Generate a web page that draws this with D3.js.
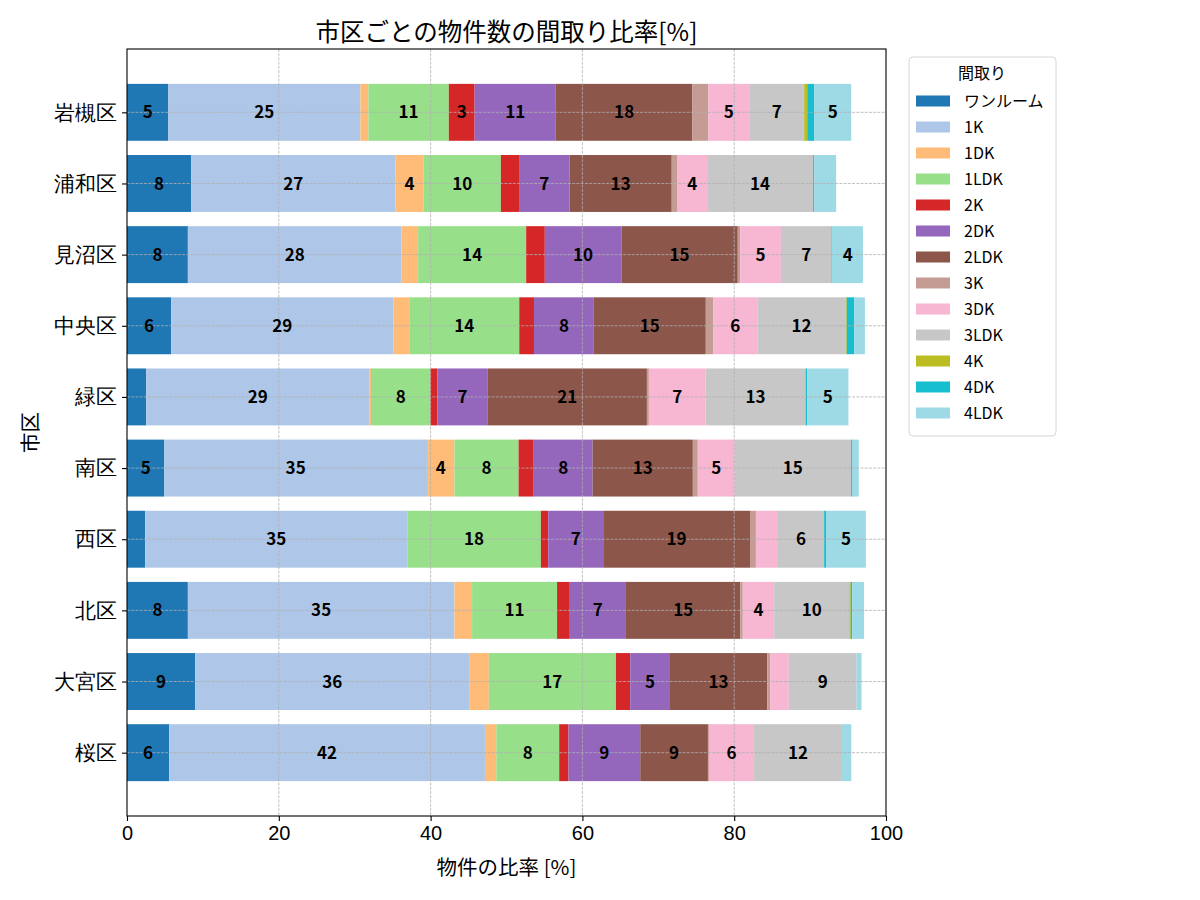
<!DOCTYPE html>
<html>
<head>
<meta charset="utf-8">
<script src="https://d3js.org/d3.v7.min.js"></script>
<style>
  body { margin: 0; background: #fff; }
  svg { font-family: "Noto Sans CJK JP", "Noto Sans", sans-serif; }
  .axis path, .axis line { stroke: #000; stroke-width: 1.1; }
  .axis text { font-size: 20px; fill: #000; }
  .axis--y text { font-size: 21px; }
</style>
</head>
<body>
<svg width="1200" height="900"></svg>
<script>
// wards, bottom (index 0) to top, as matplotlib barh stacks them
var wards = ["桜区", "大宮区", "北区", "西区", "南区", "緑区", "中央区", "見沼区", "浦和区", "岩槻区"];

var layouts = ["ワンルーム", "1K", "1DK", "1LDK", "2K", "2DK", "2LDK", "3K", "3DK", "3LDK", "4K", "4DK", "4LDK"];

var colors = ["#1f77b4", "#aec7e8", "#ffbb78", "#98df8a", "#d62728", "#9467bd", "#8c564b",
              "#c49c94", "#f7b6d2", "#c7c7c7", "#bcbd22", "#17becf", "#9edae5"];

// share of listings per layout [%], same order as layouts
var sakura    = [5.56, 41.6, 1.5, 8.28, 1.23, 9.45, 8.92, 0.13, 5.95, 11.58, 0, 0, 1.23];
var omiya     = [8.99, 36.09, 2.59, 16.75, 1.88, 5.24, 12.81, 0.39, 2.45, 8.93, 0, 0, 0.65];
var kita      = [8.02, 35.12, 2.33, 11.19, 1.68, 7.4, 15.07, 0.32, 4.14, 9.9, 0.19, 0.2, 1.55];
var nishi     = [2.39, 34.54, 0, 17.6, 0.97, 7.24, 19.34, 0.78, 2.91, 6.08, 0, 0.25, 5.25];
var minami    = [4.92, 34.6, 3.62, 8.45, 2.0, 7.76, 13.2, 0.65, 4.85, 15.33, 0, 0.13, 0.9];
var midori    = [2.52, 29.43, 0.2, 7.82, 0.91, 6.66, 20.96, 0.26, 7.45, 13.2, 0, 0.19, 5.45];
var chuo      = [5.82, 29.3, 2.07, 14.49, 1.94, 7.89, 14.75, 0.97, 5.82, 11.65, 0.13, 0.97, 1.42];
var minuma    = [8.02, 28.14, 2.2, 14.23, 2.46, 10.09, 15.33, 0.32, 5.37, 6.66, 0, 0.13, 4.01];
var urawa     = [8.45, 26.9, 3.75, 10.16, 2.39, 6.66, 13.46, 0.77, 3.89, 13.97, 0, 0.13, 2.9];
var iwatsuki  = [5.45, 25.3, 1.05, 10.6, 3.4, 10.7, 18.0, 2.07, 5.4, 7.25, 0.4, 0.9, 4.9];

var shares = [sakura, omiya, kita, nishi, minami, midori, chuo, minuma, urawa, iwatsuki];

var xTicks = [0, 20, 40, 60, 80, 100];

var svg = d3.select("svg"),
    margin = {top: 49, right: 314, bottom: 84, left: 127},
    width = +svg.attr("width") - margin.left - margin.right,
    height = +svg.attr("height") - margin.top - margin.bottom;

// matplotlib style y limits: bars are 0.8 tall, 5% padding
var barH = 0.8;
var lo = -barH / 2, hi = wards.length - 1 + barH / 2;
var pad = (hi - lo) * 0.05;

var x = d3.scaleLinear().domain([0, 100]).range([0, width]);
var y = d3.scaleLinear().domain([lo - pad, hi + pad]).range([height, 0]);

var g = svg.append("g")
    .attr("transform", "translate(" + margin.left + "," + margin.top + ")");

// build stacked segments
var segs = [];
shares.forEach(function(row, wi) {
  var acc = 0;
  row.forEach(function(v, li) {
    segs.push({ward: wi, layout: li, x0: acc, x1: acc + v, value: v});
    acc += v;
  });
});

g.selectAll(".bar").data(segs)
  .enter().append("rect")
    .attr("class", "bar")
    .attr("x", function(d) { return x(d.x0); })
    .attr("width", function(d) { return x(d.x1) - x(d.x0); })
    .attr("y", function(d) { return y(d.ward + barH / 2); })
    .attr("height", function(d) { return y(d.ward - barH / 2) - y(d.ward + barH / 2); })
    .attr("fill", function(d) { return colors[d.layout]; });

// grid over the bars
var grid = g.append("g").attr("class", "grid")
    .attr("stroke", "#b0b0b0").attr("stroke-width", 0.8)
    .attr("stroke-dasharray", "2.96,1.28");
grid.selectAll(".vg").data(xTicks.slice(1, -1))
  .enter().append("line")
    .attr("x1", function(d) { return x(d); }).attr("x2", function(d) { return x(d); })
    .attr("y1", 0).attr("y2", height);
grid.selectAll(".hg").data(wards)
  .enter().append("line")
    .attr("x1", 0).attr("x2", width)
    .attr("y1", function(d, i) { return y(i); }).attr("y2", function(d, i) { return y(i); });

// value labels for segments of 3% or more
g.selectAll(".label").data(segs.filter(function(d) { return d.value >= 3; }))
  .enter().append("text")
    .attr("class", "label")
    .attr("x", function(d) { return x((d.x0 + d.x1) / 2); })
    .attr("y", function(d) { return y(d.ward); })
    .attr("dy", "0.36em")
    .attr("text-anchor", "middle")
    .style("font-size", "17px")
    .style("font-weight", "bold")
    .text(function(d) { return Math.round(d.value); });

// axes
var xAxis = d3.axisBottom(x).tickValues(xTicks).tickFormat(d3.format("d"))
    .tickSize(5).tickSizeOuter(0).tickPadding(5);
g.append("g")
    .attr("class", "axis axis--x")
    .attr("transform", "translate(0," + height + ")")
    .call(xAxis);

var yAxis = d3.axisLeft(y).tickValues(d3.range(wards.length))
    .tickFormat(function(i) { return wards[i]; })
    .tickSize(5).tickSizeOuter(0).tickPadding(5);
g.append("g")
    .attr("class", "axis axis--y")
    .call(yAxis);
g.selectAll(".axis .domain").remove();

// frame
g.append("rect")
    .attr("width", width).attr("height", height)
    .attr("fill", "none").attr("stroke", "#000").attr("stroke-width", 1.1);

// title and axis labels
svg.append("text")
    .attr("x", margin.left + width / 2).attr("y", 41)
    .attr("text-anchor", "middle")
    .style("font-size", "24.5px")
    .text("市区ごとの物件数の間取り比率[%]");

svg.append("text")
    .attr("x", margin.left + width / 2).attr("y", 875)
    .attr("text-anchor", "middle")
    .style("font-size", "20.5px")
    .text("物件の比率 [%]");

svg.append("text")
    .attr("transform", "translate(38," + (margin.top + height / 2) + ") rotate(-90)")
    .attr("text-anchor", "middle")
    .style("font-size", "20.5px")
    .text("市区");

// legend
var lg = svg.append("g").attr("transform", "translate(909,57)");
lg.append("rect")
    .attr("width", 147).attr("height", 379)
    .attr("rx", 4)
    .attr("fill", "#fff").attr("stroke", "#d6d6d6");
lg.append("text")
    .attr("x", 73).attr("y", 22)
    .attr("text-anchor", "middle")
    .style("font-size", "16px")
    .text("間取り");
var items = lg.selectAll(".item").data(layouts)
  .enter().append("g")
    .attr("class", "item")
    .attr("transform", function(d, i) { return "translate(0," + (44 + i * 26) + ")"; });
items.append("rect")
    .attr("x", 7).attr("y", -5.5)
    .attr("width", 34).attr("height", 11)
    .attr("fill", function(d, i) { return colors[i]; });
items.append("text")
    .attr("x", 55).attr("dy", "0.35em")
    .style("font-size", "16px")
    .text(function(d) { return d; });
</script>
</body>
</html>
